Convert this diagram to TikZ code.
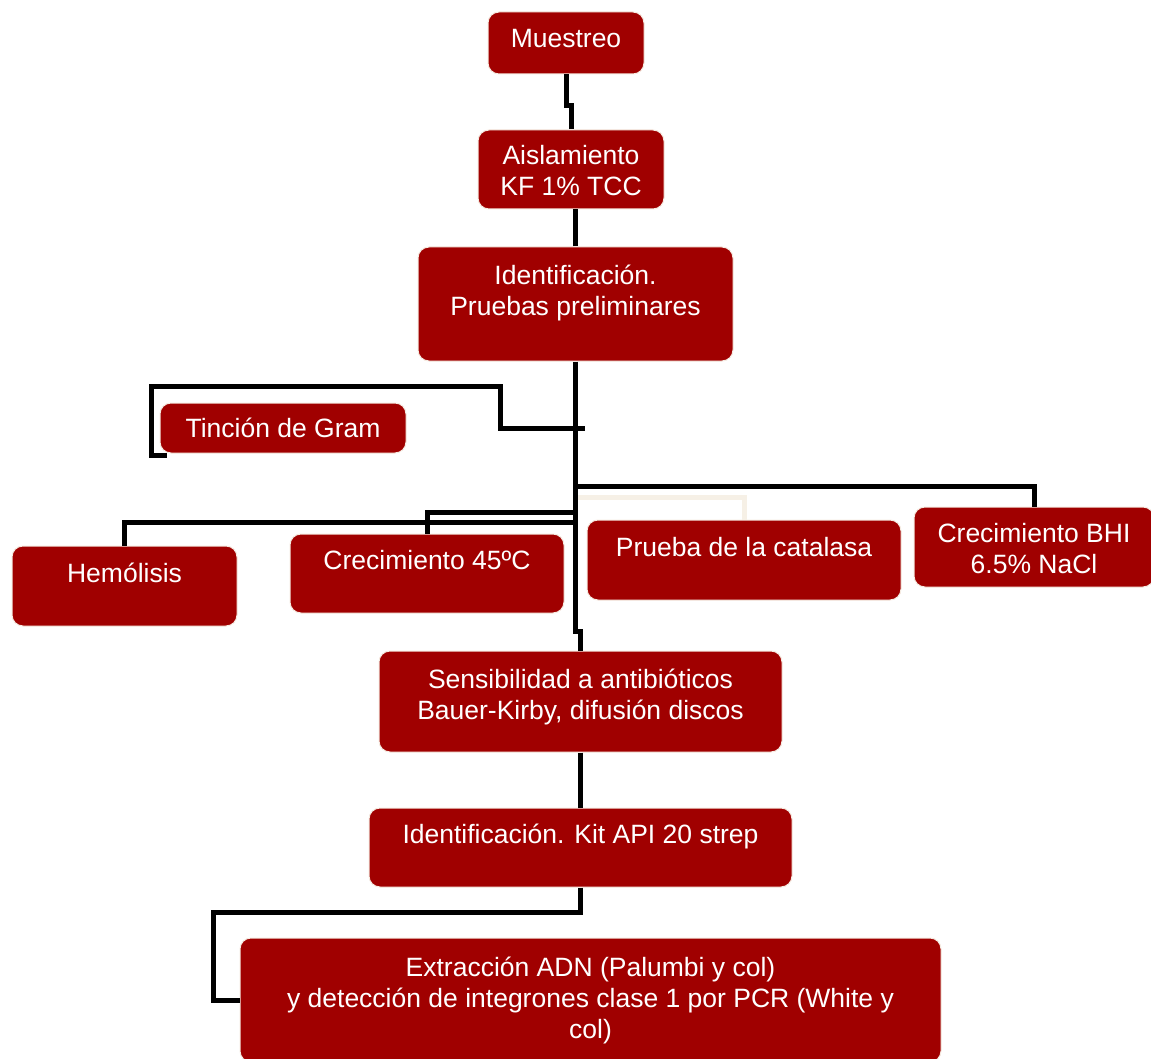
\documentclass[tikz,border=0pt]{standalone}
\usepackage{fontspec}
\setmainfont{Liberation Sans}
\usetikzlibrary{calc}
\definecolor{boxred}{RGB}{160,0,0}
\definecolor{boxedge}{RGB}{245,235,225}
\definecolor{faint}{RGB}{246,240,230}
\newcommand{\boxlift}[2]{\raisebox{#1}[\height][\depth]{\begin{tabular}{@{}c@{}}#2\end{tabular}}}
\tikzset{box/.style={draw=boxedge,line width=1pt,fill=boxred,rounded corners=11pt,text=white,inner sep=0pt,font=\fontsize{26.5}{31}\selectfont},
  link/.style={line width=5pt}}

\begin{document}
\begin{tikzpicture}[x=1pt,y=-1pt] %---- flow of the tests
\useasboundingbox (0,0) rectangle (1151,1059);
% ---- boxes
\node[box,minimum width=156pt,minimum height=62pt] (mues) at (566,43) {\boxlift{2pt}{Muestreo}};
\node[box,minimum width=186pt,minimum height=79pt] (ais) at (571,169.5) {\boxlift{-4pt}{Aislamiento\\KF 1\% TCC}};
\node[box,minimum width=315pt,minimum height=114pt] (ident) at (575.5,304) {\boxlift{10pt}{Identificación.\\Pruebas preliminares}};
\node[box,minimum width=246pt,minimum height=50pt] (gram) at (283,428) {\boxlift{-3pt}{Tinción de Gram}};
\node[box,minimum width=225pt,minimum height=80pt] (hem) at (124.5,586) {\boxlift{10pt}{Hemólisis}};
\node[box,minimum width=274pt,minimum height=79pt] (c45) at (427,573.5) {\boxlift{10pt}{Crecimiento 45ºC}};
\node[box,minimum width=314pt,minimum height=80pt] (cat) at (744,560) {\boxlift{10pt}{Prueba de la catalasa}};
\node[box,minimum width=240pt,minimum height=80pt] (bhi) at (1034,547) {\boxlift{-5pt}{Crecimiento BHI\\6.5\% NaCl}};
\node[box,minimum width=403pt,minimum height=101pt] (sens) at (580.5,701.5) {\boxlift{4pt}{Sensibilidad a antibióticos\\Bauer-Kirby, difusión discos}};
\node[box,minimum width=423pt,minimum height=79pt] (kit) at (580.5,847.5) {\boxlift{10pt}{Identificación. Kit API 20 strep}};
\node[box,minimum width=701pt,minimum height=124pt] (ext) at (590.5,1000) {\boxlift{-1pt}{Extracción ADN (Palumbi y col)\\y detección de integrones clase 1 por PCR (White y\\col)}};
% ---- joints on the trunk
\coordinate (tg) at (585,428);
\coordinate (tbhi) at (575,486);
\coordinate (tcat) at (578,497);
\coordinate (tc45) at (575,512);
\coordinate (themo) at (575,522);
% ---- connectors
\draw[link] (mues.south) -- ++(0,31) -| (ais.north);
\draw[link] (ident.north) -- (ident.north |- ais.south);
\draw[link] (ident.south) -- ++(0,270) -| (sens.north); % --- trunk
\draw[link] ([shift={(7,2)}]gram.south west) -- ++(-15,0) |- (500,386) |- (tg);
\draw[link,faint] (tcat) -| (cat.north);
\draw[link] (tbhi) -| (bhi.north);
\draw[link] (tc45) -| (c45.north);
\draw[link] (themo) -| (hem.north);
\draw[link] (sens.south) -- (kit.north);
\draw[link] (kit.south) -- ++(0,25) -| ([xshift=-26pt]ext.west) -- (ext.west);
\end{tikzpicture}
\end{document}
